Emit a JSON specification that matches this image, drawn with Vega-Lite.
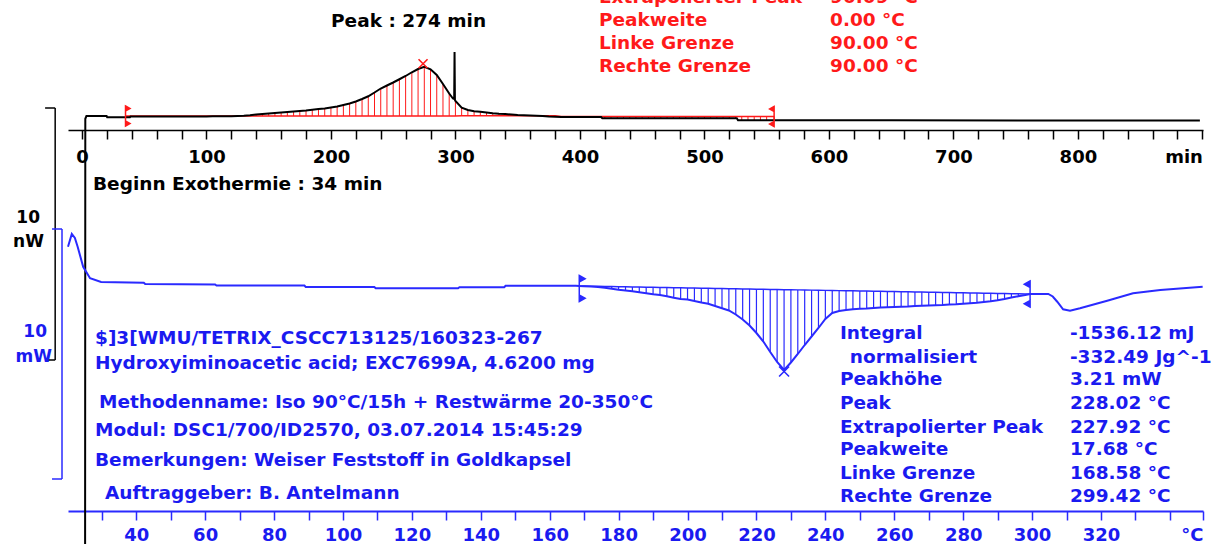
{
  "$schema": "https://vega.github.io/schema/vega-lite/v6.json",
  "width": 1135,
  "height": 511,
  "autosize": {"type": "none"},
  "padding": {"left": 68, "top": 0, "right": 26, "bottom": 33},
  "background": "white",
  "config": {"view": {"stroke": null}},
  "datasets": {
    "top": [
      {"x":2.5,"y":-20.8},{"x":2.7,"y":0.05},{"x":3.6,"y":0.16},{"x":19.8,"y":0.16},{"x":20.3,"y":0.11},
      {"x":35,"y":0.11,"b":0.16},{"x":38.5,"y":0.11},{"x":39,"y":0.14},
      {"x":40,"y":0.14,"b":0.16},{"x":45,"y":0.14,"b":0.16},{"x":50,"y":0.14,"b":0.16},{"x":55,"y":0.14,"b":0.16},
      {"x":60,"y":0.14,"b":0.16},{"x":65,"y":0.14,"b":0.16},{"x":70,"y":0.14,"b":0.16},{"x":75,"y":0.14,"b":0.16},
      {"x":80,"y":0.14,"b":0.16},{"x":85,"y":0.14,"b":0.16},{"x":90,"y":0.14,"b":0.16},{"x":95,"y":0.14,"b":0.16},
      {"x":100,"y":0.14,"b":0.16},{"x":105,"y":0.15,"b":0.16},{"x":110,"y":0.15,"b":0.16},{"x":115,"y":0.15,"b":0.16},
      {"x":120,"y":0.15,"b":0.16},{"x":125,"y":0.16,"b":0.16},{"x":130,"y":0.17,"b":0.16},{"x":135,"y":0.19,"b":0.16},
      {"x":140,"y":0.22,"b":0.16},{"x":145,"y":0.24,"b":0.16},{"x":150,"y":0.26,"b":0.16},{"x":155,"y":0.28,"b":0.16},
      {"x":160,"y":0.30,"b":0.16},{"x":165,"y":0.32,"b":0.16},{"x":170,"y":0.34,"b":0.16},{"x":175,"y":0.36,"b":0.16},
      {"x":180,"y":0.38,"b":0.16},{"x":185,"y":0.41,"b":0.16},{"x":190,"y":0.44,"b":0.16},{"x":195,"y":0.46,"b":0.16},
      {"x":200,"y":0.50,"b":0.16},{"x":205,"y":0.54,"b":0.16},{"x":210,"y":0.60,"b":0.16},{"x":215,"y":0.66,"b":0.16},
      {"x":220,"y":0.74,"b":0.16},{"x":225,"y":0.84,"b":0.16},{"x":230,"y":0.95,"b":0.16},{"x":235,"y":1.10,"b":0.16},
      {"x":240,"y":1.26,"b":0.16},{"x":245,"y":1.38,"b":0.16},{"x":250,"y":1.50,"b":0.16},{"x":255,"y":1.63,"b":0.16},
      {"x":260,"y":1.76,"b":0.16},{"x":265,"y":1.91,"b":0.16},{"x":270,"y":2.04,"b":0.16},{"x":275,"y":2.13,"b":0.16},
      {"x":280,"y":2.03,"b":0.16},{"x":285,"y":1.80,"b":0.16},{"x":290,"y":1.44,"b":0.16},{"x":295,"y":1.06,"b":0.16},
      {"x":298,"y":0.86},{"x":299,"y":0.84},{"x":299.3,"y":2.72},{"x":299.6,"y":0.80},
      {"x":300,"y":0.76,"b":0.16},{"x":305,"y":0.49,"b":0.17},{"x":310,"y":0.40,"b":0.17},{"x":315,"y":0.35,"b":0.17},
      {"x":320,"y":0.33,"b":0.17},{"x":325,"y":0.30,"b":0.17},{"x":330,"y":0.27,"b":0.17},{"x":335,"y":0.25,"b":0.17},
      {"x":340,"y":0.24,"b":0.17},{"x":345,"y":0.22,"b":0.17},{"x":350,"y":0.20,"b":0.17},{"x":355,"y":0.19,"b":0.17},
      {"x":360,"y":0.18,"b":0.17},{"x":365,"y":0.17,"b":0.17},{"x":370,"y":0.16,"b":0.17},{"x":375,"y":0.14,"b":0.17},
      {"x":380,"y":0.13,"b":0.17},{"x":385,"y":0.12,"b":0.14},{"x":390,"y":0.12,"b":0.14},{"x":395,"y":0.12,"b":0.14},
      {"x":400,"y":0.12,"b":0.14},{"x":405,"y":0.12,"b":0.14},{"x":410,"y":0.12,"b":0.14},{"x":415,"y":0.12,"b":0.14},
      {"x":417,"y":0.12},{"x":418,"y":0.07},
      {"x":420,"y":0.07,"b":0.14},{"x":425,"y":0.07,"b":0.14},{"x":430,"y":0.07,"b":0.14},{"x":435,"y":0.07,"b":0.14},
      {"x":440,"y":0.07,"b":0.14},{"x":445,"y":0.07,"b":0.14},{"x":450,"y":0.07,"b":0.14},{"x":455,"y":0.07,"b":0.14},
      {"x":460,"y":0.07,"b":0.14},{"x":465,"y":0.07,"b":0.14},{"x":470,"y":0.07,"b":0.14},{"x":475,"y":0.07,"b":0.14},
      {"x":480,"y":0.07,"b":0.14},{"x":485,"y":0.07,"b":0.14},{"x":490,"y":0.07,"b":0.14},{"x":495,"y":0.07,"b":0.14},
      {"x":500,"y":0.07,"b":0.14},{"x":505,"y":0.07,"b":0.14},{"x":510,"y":0.07,"b":0.14},{"x":515,"y":0.07,"b":0.14},
      {"x":520,"y":0.07,"b":0.14},{"x":525,"y":0.07,"b":0.14},{"x":526,"y":0.07},{"x":527,"y":-0.01},
      {"x":530,"y":-0.01,"b":0.14},{"x":535,"y":-0.01,"b":0.14},{"x":540,"y":-0.01,"b":0.14},{"x":545,"y":-0.01,"b":0.14},
      {"x":550,"y":-0.01,"b":0.14},{"x":556,"y":-0.01,"b":0.14},
      {"x":650,"y":-0.01},{"x":760,"y":-0.02},{"x":898,"y":-0.02}
    ],
    "topLimits": [{"x":35,"y":0.16,"side":"L"},{"x":556,"y":0.14,"side":"R"}],
    "topPeak": [{"x":274,"y":2.25}],
    "topBracket": [
      {"x":-21.5,"x2":-21.5,"y":0.48,"y2":-9.6},
      {"x":-29.6,"x2":-21.5,"y":0.48,"y2":0.48},
      {"x":-29.6,"x2":-21.5,"y":-9.6,"y2":-9.6}
    ],
    "isoText": [
      {"x":200.1,"y":3.96,"txt":"Peak : 274 min"},
      {"x":8.9,"y":-2.56,"txt":"Beginn Exothermie : 34 min"}
    ],
    "isoUnits": [
      {"x":-33.7,"y":-3.92,"txt":"10"},
      {"x":-30.5,"y":-4.88,"txt":"nW"}
    ],
    "evalText": [
      {"x":415.3,"y":4.92,"txt":"Extrapolierter Peak"},{"x":600.9,"y":4.92,"txt":"90.09 °C"},
      {"x":415.3,"y":4.0,"txt":"Peakweite"},{"x":600.9,"y":4.0,"txt":"0.00 °C"},
      {"x":415.3,"y":3.08,"txt":"Linke Grenze"},{"x":600.9,"y":3.08,"txt":"90.00 °C"},
      {"x":415.3,"y":2.16,"txt":"Rechte Grenze"},{"x":600.9,"y":2.16,"txt":"90.00 °C"}
    ],
    "heat": [
      {"x":20.2,"y":1.57},{"x":21.3,"y":2.08},{"x":22.2,"y":1.92},{"x":23.0,"y":1.57},{"x":24.6,"y":0.77},
      {"x":26.6,"y":0.31},{"x":29.8,"y":0.16},{"x":42.2,"y":0.13},{"x":42.6,"y":0.08},{"x":62.9,"y":0.06},
      {"x":63.3,"y":0.02},{"x":88.8,"y":0.02},{"x":89.2,"y":-0.04},{"x":109.1,"y":-0.04},{"x":109.5,"y":-0.09},
      {"x":133.4,"y":-0.09},{"x":133.8,"y":-0.05},{"x":146.8,"y":-0.05},{"x":147.2,"y":0.01},{"x":167.6,"y":0.01},
      {"x":168.58,"y":0.0,"b":0.0},{"x":170,"y":-0.01,"b":-0.003},{"x":172,"y":-0.02,"b":-0.008},
      {"x":174,"y":-0.04,"b":-0.013},{"x":176,"y":-0.07,"b":-0.018},{"x":178,"y":-0.11,"b":-0.023},
      {"x":180,"y":-0.15,"b":-0.028},{"x":182,"y":-0.18,"b":-0.033},{"x":184,"y":-0.21,"b":-0.038},
      {"x":186,"y":-0.25,"b":-0.043},{"x":188,"y":-0.29,"b":-0.047},{"x":190,"y":-0.33,"b":-0.052},
      {"x":192,"y":-0.36,"b":-0.057},{"x":194,"y":-0.41,"b":-0.062},{"x":196,"y":-0.47,"b":-0.067},
      {"x":198,"y":-0.52,"b":-0.072},{"x":200,"y":-0.54,"b":-0.077},{"x":202,"y":-0.60,"b":-0.082},
      {"x":204,"y":-0.66,"b":-0.087},{"x":206,"y":-0.71,"b":-0.092},{"x":208,"y":-0.80,"b":-0.096},
      {"x":210,"y":-0.89,"b":-0.101},{"x":212,"y":-0.98,"b":-0.106},{"x":214,"y":-1.14,"b":-0.111},
      {"x":216,"y":-1.34,"b":-0.116},{"x":218,"y":-1.58,"b":-0.121},{"x":220,"y":-1.88,"b":-0.126},
      {"x":222,"y":-2.22,"b":-0.131},{"x":224,"y":-2.64,"b":-0.136},{"x":226,"y":-3.04,"b":-0.141},
      {"x":228.02,"y":-3.36,"b":-0.146},{"x":230,"y":-3.06,"b":-0.150},{"x":232,"y":-2.72,"b":-0.155},
      {"x":234,"y":-2.36,"b":-0.160},{"x":236,"y":-2.02,"b":-0.165},{"x":238,"y":-1.68,"b":-0.170},
      {"x":240,"y":-1.32,"b":-0.175},{"x":242,"y":-1.08,"b":-0.180},{"x":244,"y":-1.00,"b":-0.185},
      {"x":246,"y":-0.96,"b":-0.189},{"x":248,"y":-0.93,"b":-0.194},{"x":250,"y":-0.91,"b":-0.199},
      {"x":252,"y":-0.90,"b":-0.204},{"x":254,"y":-0.88,"b":-0.209},{"x":256,"y":-0.86,"b":-0.214},
      {"x":258,"y":-0.85,"b":-0.219},{"x":260,"y":-0.84,"b":-0.224},{"x":262,"y":-0.83,"b":-0.228},
      {"x":264,"y":-0.82,"b":-0.233},{"x":266,"y":-0.80,"b":-0.238},{"x":268,"y":-0.79,"b":-0.243},
      {"x":270,"y":-0.78,"b":-0.248},{"x":272,"y":-0.77,"b":-0.253},{"x":274,"y":-0.76,"b":-0.258},
      {"x":276,"y":-0.74,"b":-0.263},{"x":278,"y":-0.73,"b":-0.268},{"x":280,"y":-0.71,"b":-0.272},
      {"x":282,"y":-0.69,"b":-0.277},{"x":284,"y":-0.67,"b":-0.282},{"x":286,"y":-0.64,"b":-0.287},
      {"x":288,"y":-0.61,"b":-0.292},{"x":290,"y":-0.57,"b":-0.297},{"x":292,"y":-0.52,"b":-0.302},
      {"x":294,"y":-0.46,"b":-0.307},{"x":296,"y":-0.41,"b":-0.311},{"x":298,"y":-0.36,"b":-0.316},
      {"x":299.42,"y":-0.32,"b":-0.32},
      {"x":304.7,"y":-0.32},{"x":306,"y":-0.42},{"x":307.3,"y":-0.63},{"x":309.0,"y":-0.93},{"x":311.0,"y":-0.99},
      {"x":313.9,"y":-0.89},{"x":321.8,"y":-0.59},{"x":329.3,"y":-0.29},{"x":337.2,"y":-0.16},{"x":349.5,"y":-0.03}
    ],
    "heatLimits": [{"x":168.58,"y":-0.1,"side":"L"},{"x":299.42,"y":-0.32,"side":"R"}],
    "heatPeak": [{"x":228.02,"y":-3.42}],
    "heatBracket": [
      {"x":18.46,"x2":18.46,"y":2.28,"y2":-7.72},
      {"x":15.56,"x2":18.46,"y":2.28,"y2":2.28},
      {"x":15.56,"x2":18.46,"y":-7.72,"y2":-7.72}
    ],
    "heatText": [
      {"x":28.04,"y":-2.08,"txt":"$]3[WMU/TETRIX_CSCC713125/160323-267"},
      {"x":28.04,"y":-3.08,"txt":"Hydroxyiminoacetic acid; EXC7699A, 4.6200 mg"},
      {"x":29.2,"y":-4.64,"txt":"Methodenname: Iso 90°C/15h + Restwärme 20-350°C"},
      {"x":28.04,"y":-5.76,"txt":"Modul: DSC1/700/ID2570, 03.07.2014 15:45:29"},
      {"x":28.04,"y":-6.96,"txt":"Bemerkungen: Weiser Feststoff in Goldkapsel"},
      {"x":30.94,"y":-8.28,"txt":"Auftraggeber: B. Antelmann"},
      {"x":244.23,"y":-1.88,"txt":"Integral"},{"x":310.97,"y":-1.88,"txt":"-1536.12 mJ"},
      {"x":247.1,"y":-2.84,"txt":"normalisiert"},{"x":310.97,"y":-2.84,"txt":"-332.49 Jg^-1"},
      {"x":244.23,"y":-3.72,"txt":"Peakhöhe"},{"x":310.97,"y":-3.72,"txt":"3.21 mW"},
      {"x":244.23,"y":-4.68,"txt":"Peak"},{"x":310.97,"y":-4.68,"txt":"228.02 °C"},
      {"x":244.23,"y":-5.64,"txt":"Extrapolierter Peak"},{"x":310.97,"y":-5.64,"txt":"227.92 °C"},
      {"x":244.23,"y":-6.52,"txt":"Peakweite"},{"x":310.97,"y":-6.52,"txt":"17.68 °C"},
      {"x":244.23,"y":-7.48,"txt":"Linke Grenze"},{"x":310.97,"y":-7.48,"txt":"168.58 °C"},
      {"x":244.23,"y":-8.4,"txt":"Rechte Grenze"},{"x":310.97,"y":-8.4,"txt":"299.42 °C"}
    ],
    "heatUnits": [
      {"x":14.1,"y":-1.84,"txt":"10"},
      {"x":15.56,"y":-2.84,"txt":"mW"}
    ]
  },
  "resolve": {"scale": {"x": "independent", "y": "independent"}, "axis": {"x": "independent", "y": "independent"}},
  "layer": [
    {
      "encoding": {
        "x": {"field": "x", "type": "quantitative", "scale": {"domain": [-11.2, 900.5], "nice": false, "zero": false},
          "axis": {"orient": "bottom", "offset": -381, "title": null, "grid": false,
            "values": [0,20,40,60,80,100,120,140,160,180,200,220,240,260,280,300,320,340,360,380,400,420,440,460,480,500,520,540,560,580,600,620,640,660,680,700,720,740,760,780,800,820,840,860,880,900],
            "labelExpr": "datum.value == 900 ? 'min' : (datum.value % 100 == 0 ? datum.label : '')",
            "labelAlign": {"condition": {"test": "datum.value == 900", "value": "right"}, "value": "center"},
            "labelFont": "DejaVu Sans", "labelFontWeight": "bold", "labelFontSize": 18, "labelColor": "#000000",
            "labelPadding": 9, "labelOverlap": false, "labelBound": false, "labelFlush": false,
            "tickSize": 9, "tickColor": "#000000", "tickWidth": 1.5, "domainColor": "#000000", "domainWidth": 1.5}},
        "y": {"field": "y", "type": "quantitative", "scale": {"domain": [-15.64, 4.8], "nice": false, "zero": false}, "axis": null}
      },
      "layer": [
        {"data": {"name": "top"}, "transform": [{"filter": "isValid(datum.b)"}],
         "mark": {"type": "rule", "color": "#ff1a1a", "strokeWidth": 1},
         "encoding": {"y2": {"field": "b"}}},
        {"data": {"name": "top"}, "transform": [{"filter": "isValid(datum.b)"}],
         "mark": {"type": "line", "color": "#ff1a1a", "strokeWidth": 1.5},
         "encoding": {"y": {"field": "b", "type": "quantitative"}}},
        {"data": {"name": "top"}, "mark": {"type": "line", "color": "#000000", "strokeWidth": 2}, "encoding": {}},
        {"data": {"name": "topLimits"},
         "mark": {"type": "point", "filled": true, "color": "#ff1a1a", "stroke": "#ff1a1a", "strokeWidth": 1.5, "size": 400, "opacity": 1},
         "encoding": {"shape": {"field": "side", "type": "nominal", "legend": null,
           "scale": {"domain": ["L", "R"], "range": ["M0,-1L0,1M0,-1L0.45,-0.75L0,-0.5ZM0,1L0.45,0.75L0,0.5Z", "M0,-1L0,1M0,-1L-0.45,-0.75L0,-0.5ZM0,1L-0.45,0.75L0,0.5Z"]}}}},
        {"data": {"name": "topPeak"},
         "mark": {"type": "point", "filled": false, "color": "#ff1a1a", "strokeWidth": 1.6, "size": 81, "opacity": 1, "shape": "M-1,-1L1,1M-1,1L1,-1"},
         "encoding": {}},
        {"data": {"name": "topBracket"}, "mark": {"type": "rule", "color": "#000000", "strokeWidth": 1.5},
         "encoding": {"x2": {"field": "x2"}, "y2": {"field": "y2"}}},
        {"data": {"name": "isoText"},
         "mark": {"type": "text", "align": "left", "baseline": "middle", "font": "DejaVu Sans", "fontWeight": "bold", "fontSize": 18.5, "color": "#000000"},
         "encoding": {"text": {"field": "txt"}}},
        {"data": {"name": "isoUnits"},
         "mark": {"type": "text", "align": "right", "baseline": "middle", "font": "DejaVu Sans", "fontWeight": "bold", "fontSize": 17, "color": "#000000"},
         "encoding": {"text": {"field": "txt"}}},
        {"data": {"name": "evalText"},
         "mark": {"type": "text", "align": "left", "baseline": "middle", "font": "DejaVu Sans", "fontWeight": "bold", "fontSize": 18.5, "color": "#ff1a1a"},
         "encoding": {"text": {"field": "txt"}}}
      ]
    },
    {
      "encoding": {
        "x": {"field": "x", "type": "quantitative", "scale": {"domain": [20.2, 349.6], "nice": false, "zero": false},
          "axis": {"orient": "bottom", "title": null, "grid": false,
            "values": [30,40,50,60,70,80,90,100,110,120,130,140,150,160,170,180,190,200,210,220,230,240,250,260,270,280,290,300,310,320,330,340,349.6],
            "labelExpr": "datum.value > 345 ? '°C' : ((datum.value % 20 == 0 && datum.value < 335) ? datum.label : '')",
            "labelAlign": {"condition": {"test": "datum.value > 345", "value": "right"}, "value": "center"},
            "labelFont": "DejaVu Sans", "labelFontWeight": "bold", "labelFontSize": 18, "labelColor": "#1a1af0",
            "labelPadding": 6, "labelOverlap": false, "labelBound": false, "labelFlush": false,
            "tickSize": 9, "tickColor": "#2a2aff", "tickWidth": 1.5, "domainColor": "#2a2aff", "domainWidth": 2}},
        "y": {"field": "y", "type": "quantitative", "scale": {"domain": [-9.0, 11.44], "nice": false, "zero": false}, "axis": null}
      },
      "layer": [
        {"data": {"name": "heat"}, "transform": [{"filter": "isValid(datum.b)"}],
         "mark": {"type": "rule", "color": "#2a2aff", "strokeWidth": 1.2},
         "encoding": {"y2": {"field": "b"}}},
        {"data": {"name": "heat"}, "transform": [{"filter": "isValid(datum.b)"}],
         "mark": {"type": "line", "color": "#2a2aff", "strokeWidth": 1.5},
         "encoding": {"y": {"field": "b", "type": "quantitative"}}},
        {"data": {"name": "heat"}, "mark": {"type": "line", "color": "#2a2aff", "strokeWidth": 2}, "encoding": {}},
        {"data": {"name": "heatLimits"},
         "mark": {"type": "point", "filled": true, "color": "#2a2aff", "stroke": "#2a2aff", "strokeWidth": 1.5, "size": 676, "opacity": 1},
         "encoding": {"shape": {"field": "side", "type": "nominal", "legend": null,
           "scale": {"domain": ["L", "R"], "range": ["M0,-1L0,1M0,-1L0.45,-0.75L0,-0.5ZM0,1L0.45,0.75L0,0.5Z", "M0,-1L0,1M0,-1L-0.45,-0.75L0,-0.5ZM0,1L-0.45,0.75L0,0.5Z"]}}}},
        {"data": {"name": "heatPeak"},
         "mark": {"type": "point", "filled": false, "color": "#2a2aff", "strokeWidth": 1.6, "size": 100, "opacity": 1, "shape": "M-1,-1L1,1M-1,1L1,-1"},
         "encoding": {}},
        {"data": {"name": "heatBracket"}, "mark": {"type": "rule", "color": "#2a2aff", "strokeWidth": 1.5},
         "encoding": {"x2": {"field": "x2"}, "y2": {"field": "y2"}}},
        {"data": {"name": "heatText"},
         "mark": {"type": "text", "align": "left", "baseline": "middle", "font": "DejaVu Sans", "fontWeight": "bold", "fontSize": 18.5, "color": "#1a1af0"},
         "encoding": {"text": {"field": "txt"}}},
        {"data": {"name": "heatUnits"},
         "mark": {"type": "text", "align": "right", "baseline": "middle", "font": "DejaVu Sans", "fontWeight": "bold", "fontSize": 17, "color": "#1a1af0"},
         "encoding": {"text": {"field": "txt"}}}
      ]
    }
  ]
}
